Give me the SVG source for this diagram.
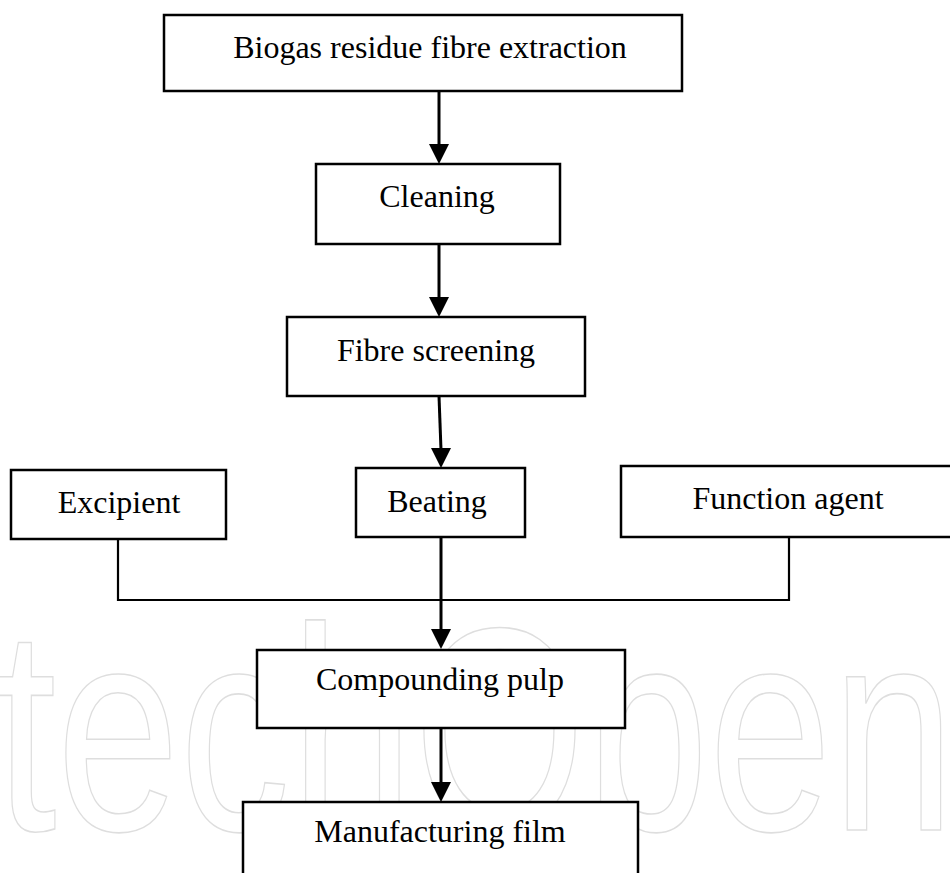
<svg xmlns="http://www.w3.org/2000/svg" width="950" height="873" viewBox="0 0 950 873">
<style>
.box{fill:#fff;stroke:#000;stroke-width:2.5}
.lbl{font-family:"Liberation Serif","Times New Roman",serif;font-size:32px;fill:#000;text-anchor:middle}
.arr{stroke:#000;stroke-width:3;fill:none}
.join{stroke:#000;stroke-width:2.2;fill:none}
.wm{font-family:"Liberation Sans",Arial,sans-serif;font-size:290px;fill:none;stroke:#dedede;stroke-width:1.6}
</style>
<rect width="950" height="873" fill="#fff"/>
<g id="watermark"><text class="wm" x="-5" y="830" textLength="960" lengthAdjust="spacingAndGlyphs">techOpen</text></g>
<g id="connectors">
<line class="arr" x1="439" y1="91" x2="439" y2="146"/>
<path d="M429,144 L449,144 L439,164 Z"/>
<line class="arr" x1="439" y1="244" x2="439" y2="299"/>
<path d="M429,297 L449,297 L439,317 Z"/>
<line class="arr" x1="439" y1="396" x2="441" y2="450"/>
<path d="M431,448 L451,448 L441,468 Z"/>
<line class="arr" x1="441" y1="537" x2="441" y2="631"/>
<path d="M431,629 L451,629 L441,649 Z"/>
<line class="arr" x1="441" y1="729" x2="441" y2="784"/>
<path d="M431,782 L451,782 L441,802 Z"/>
<polyline class="join" points="118,539 118,600 789,600 789,537"/>
</g>
<g id="n1"><rect class="box" x="164" y="15" width="518" height="76"/><text class="lbl" x="430" y="58">Biogas residue fibre extraction</text></g>
<g id="n2"><rect class="box" x="316" y="164" width="244" height="80"/><text class="lbl" x="437" y="207">Cleaning</text></g>
<g id="n3"><rect class="box" x="287" y="317" width="298" height="79"/><text class="lbl" x="436" y="361">Fibre screening</text></g>
<g id="n4"><rect class="box" x="11" y="470" width="215" height="69"/><text class="lbl" x="119" y="513">Excipient</text></g>
<g id="n5"><rect class="box" x="356" y="468" width="169" height="69"/><text class="lbl" x="437" y="512">Beating</text></g>
<g id="n6"><rect class="box" x="621" y="466" width="340" height="71"/><text class="lbl" x="788" y="509">Function agent</text></g>
<g id="n7"><rect class="box" x="257" y="650" width="368" height="78"/><text class="lbl" x="440" y="690">Compounding pulp</text></g>
<g id="n8"><rect class="box" x="243" y="802" width="395" height="90"/><text class="lbl" x="440" y="842">Manufacturing film</text></g>
</svg>
